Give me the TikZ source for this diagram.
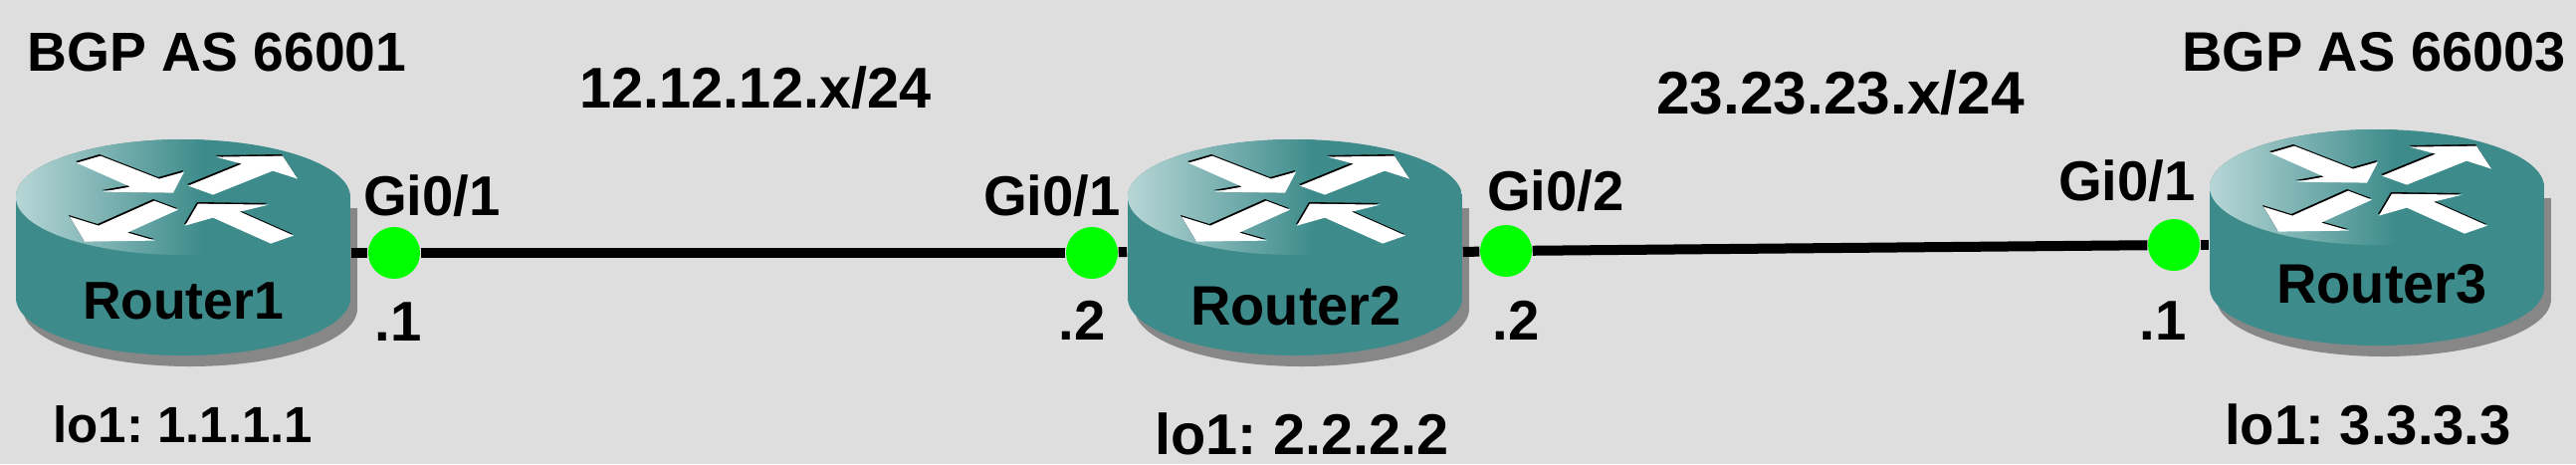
\documentclass[tikz,border=0pt]{standalone}
\usepackage{fontspec}
\setmainfont{Liberation Sans}
\usepackage{xcolor}
\definecolor{canvasgray}{HTML}{DEDEDE}
\definecolor{routerteal}{HTML}{3D8B8B}
\definecolor{routerlight}{HTML}{B7D6D6}
\definecolor{routershadow}{HTML}{878787}
\definecolor{portgreen}{HTML}{00FF00}
\frenchspacing

\begin{document}
\begin{tikzpicture}[
  x=0.01cm, y=-0.01cm,
  txt/.style={font=\fontsize{#1pt}{18pt}\selectfont\bfseries, inner sep=0pt, text=black},
  txt/.default=16,
  port/.style={circle, fill=portgreen, minimum size=0.52cm, inner sep=0pt},
  link/.style={draw=black, line width=0.1cm},
  hit/.style={minimum width=3.36cm, minimum height=2.17cm, inner sep=0pt},
  router/.pic={
    \fill[routershadow] (7,112) ellipse [x radius=168, y radius=58];
    \fill[routershadow] (-161,11) rectangle (175,112);
    \fill[routerteal] (0,101) ellipse [x radius=168, y radius=58];
    \fill[routerteal] (-168,0) rectangle (168,101);
    \begin{scope}
      \clip (0,0) ellipse [x radius=168, y radius=58];
      \fill[routerteal] (-168,-58) rectangle (168,58);
      \shade[left color=routerlight, right color=routerteal] (-168,-58) rectangle (20,58);
    \end{scope}
    \foreach \dx/\dy/\col in {0/0/black, 1/1.6/white} {
      \begin{scope}[shift={(\dx,\dy)}]
        \fill[\col] (-108,-36) -- (-84,-43) -- (-25,-20) -- (0,-27) -- (-11,-6) -- (-82,-7) -- (-54,-12) -- cycle;
        \fill[\col] (4,-13) -- (58,-35) -- (32,-42) -- (99,-43) -- (114,-20) -- (89,-28) -- (29,-4) -- cycle;
        \fill[\col] (-6,11) -- (-30,2) -- (-86,27) -- (-115,18) -- (-100,43) -- (-29,42) -- (-57,34) -- cycle;
        \fill[\col] (1,27) -- (14,5) -- (85,6) -- (56,13) -- (110,37) -- (87,45) -- (29,19) -- cycle;
      \end{scope}
    }
  }
]
\fill[canvasgray] (0,0) rectangle (2588,466);
% routers
\pic at (184,198) {router};
\pic at (1301,198) {router};
\pic at (2388,188) {router};
\node[hit] (r1) at (184,254) {};
\node[hit] (r2) at (1301,253) {};
\node[hit] (r3) at (2388,246) {};
\node[txt=15.2] (r1name) at (184,302) {Router1};
\node[txt=15.9] (r2name) at (1302,307) {Router2};
\node[txt=15.9] (r3name) at (2393,285) {Router3};
% ports
\node[port] (r1g1) at (396,254) {};
\node[port] (r2g1) at (1097,254) {};
\node[port] (r2g2) at (1513,252) {};
\node[port] (r3g1) at (2184,246) {};
\draw[link] (r1.east) -- (r1g1);
\draw[link] (r1g1) -- (r2g1);
\draw[link] (r2g1) -- (r2.west);
\draw[link] (r2.east) -- (r2g2);
\draw[link] (r2g2) -- (r3g1);
\draw[link] (r3g1) -- (r3.west);
% labels
\node[txt=15.7] (as1) at (218,52) {BGP AS 66001};
\node[txt=15.9] (as3) at (2385,52) {BGP AS 66003};
\node[txt=16.4] (net12) at (759,88) {12.12.12.x/24};
\node[txt=17.2] (net23) at (1849,93) {23.23.23.x/24};
\node[txt] (r1g1txt) at (434,197) {Gi0/1};
\node[txt] (r2g1txt) at (1057,197) {Gi0/1};
\node[txt] (r2g2txt) at (1563,192) {Gi0/2};
\node[txt] (r3g1txt) at (2137,182) {Gi0/1};
\node[txt] (r1ip) at (400,323) {.1};
\node[txt] (r2ip) at (1087,322) {.2};
\node[txt] (r2ip2) at (1523,322) {.2};
\node[txt] (r3ip) at (2173,322) {.1};
\node[txt=14.5] (lo1) at (184,426) {lo1: 1.1.1.1};
\node[txt=16.4] (lo2) at (1308,436) {lo1: 2.2.2.2};
\node[txt] (lo3) at (2379,426) {lo1: 3.3.3.3};
\end{tikzpicture}
\end{document}
